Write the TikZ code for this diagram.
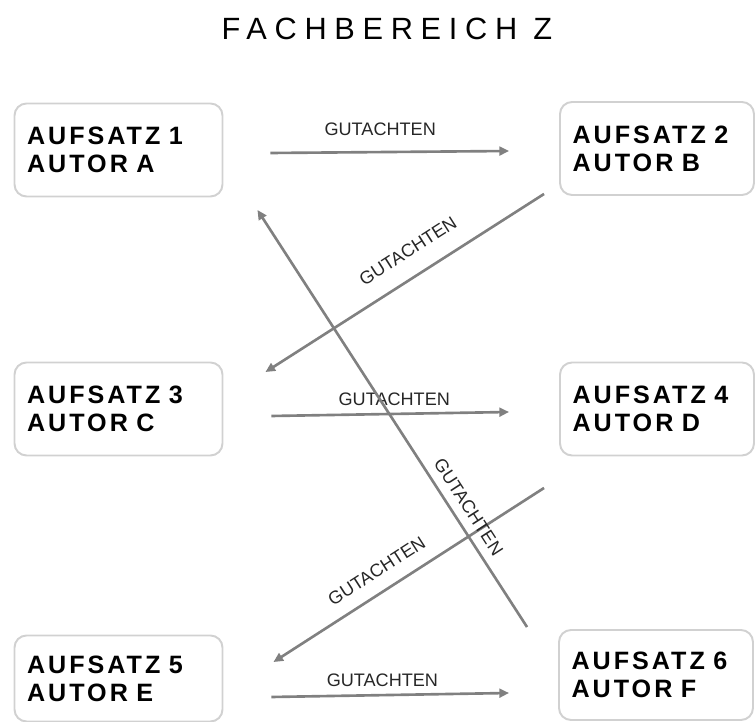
\documentclass[tikz,border=0pt]{standalone}
\usepackage{fontspec}
\setmainfont{Liberation Sans}
\newfontfamily\boxfont[LetterSpace=12]{Liberation Sans}
\newfontfamily\titlefont[LetterSpace=25]{Liberation Sans}
\usetikzlibrary{positioning, arrows.meta}
\usetikzlibrary{calc}

\begin{document}
\begin{tikzpicture}[
      x=0.02cm, y=-0.02cm,
      box/.style={rectangle, draw=black!18, line width=1.1pt, rounded corners=0.24cm, inner xsep=0.25cm, inner ysep=0pt, text width=#1, minimum height=1.86cm, align=left, font=\boxfont\bfseries\fontsize{14.3}{15.9}\selectfont},
      box/.default=3.66cm,
      arrow/.style={-{Triangle[length=5.5pt, width=5pt]}, draw=black!50, line width=1.5pt},
      lbl/.style={font=\fontsize{10.3}{12}\selectfont, text=black!85, inner sep=0pt}
    ]
      \useasboundingbox (0,0) rectangle (755,722);

      % Title
      \node[font=\titlefont\fontsize{17.5}{21}\selectfont] (title) at (387,29) {FACHBEREICH Z};

      % Papers
      \node[box] (b1) at (118.5,150) {AUFSATZ 1\\AUTOR A};
      \node[box=3.38cm] (b2) at (657,148.5) {AUFSATZ 2\\AUTOR B};
      \node[box] (b3) at (118.5,409) {AUFSATZ 3\\AUTOR C};
      \node[box=3.38cm] (b4) at (657,409) {AUFSATZ 4\\AUTOR D};
      \node[box, minimum height=1.72cm] (b5) at (118.5,678.5) {AUFSATZ 5\\AUTOR E};
      \node[box=3.38cm, minimum height=1.8cm] (b6) at (656,675) {AUFSATZ 6\\AUTOR F};

      % Reviews
      \draw[arrow] ($(b1.east)+(47,3)$) -- node[lbl, above=8.5pt, pos=0.46] {GUTACHTEN} ($(b2.west)+(-50,2.5)$);
      \draw[arrow] ($(b3.east)+(48,7)$) -- node[lbl, above=4pt, pos=0.517] {GUTACHTEN} ($(b4.west)+(-50,3)$);
      \draw[arrow] ($(b5.east)+(48,18.5)$) -- node[lbl, above=4pt, pos=0.467] {GUTACHTEN} ($(b6.west)+(-49,18)$);
      \draw[arrow] ($(b2.south west)+(-15,-2)$) -- node[lbl, sloped, above=10pt, pos=0.44] {GUTACHTEN} ($(b3.north east)+(42,10.5)$);
      \draw[arrow] ($(b4.south west)+(-15,31.5)$) -- node[lbl, sloped, above=7.5pt, pos=0.577] {GUTACHTEN} ($(b5.north east)+(50,27.5)$);
      \draw[arrow] ($(b6.north west)+(-31,-2)$) -- node[lbl, sloped, above=4.8pt, pos=0.267] {GUTACHTEN} ($(b1.south east)+(34,12.5)$);

    \end{tikzpicture}
\end{document}
